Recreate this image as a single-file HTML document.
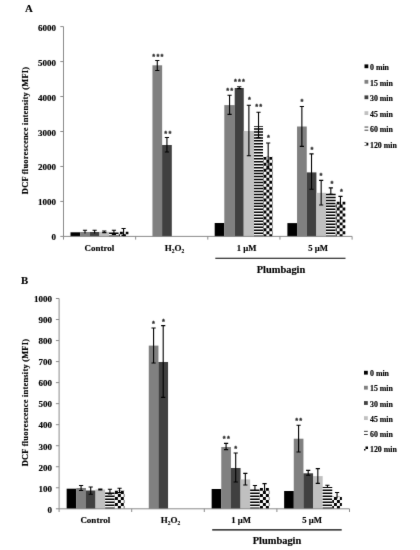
<!DOCTYPE html>
<html><head><meta charset="utf-8"><title>DCF fluorescence</title>
<style>
html,body{margin:0;padding:0;background:#fff;}
body{width:420px;height:550px;overflow:hidden;}
svg{display:block;will-change:transform;}
text{font-family:"Liberation Serif", serif;font-weight:bold;fill:#000;stroke:#000;stroke-width:0.15px;}
.t{font-size:9px;}
.g{font-size:9px;}
.p{font-size:10.4px;}
.m{font-size:8.7px;}
.y{font-size:8.4px;letter-spacing:0.24px;}
.L{font-size:10.8px;}
.l{font-size:7.85px;}
.s{font-family:"Liberation Sans", sans-serif;font-weight:bold;font-size:7.4px;letter-spacing:1.22px;fill:#2a2a2a;stroke:#2a2a2a;stroke-width:0.3px;}
</style></head><body>
<svg width="420" height="550" viewBox="0 0 420 550">
<defs>
<filter id="soft" x="0" y="0" width="420" height="550" filterUnits="userSpaceOnUse" color-interpolation-filters="sRGB"><feConvolveMatrix order="3" kernelMatrix="1 6 1 6 72 6 1 6 1" divisor="100" edgeMode="duplicate" preserveAlpha="true"/></filter>
<pattern id="stripe" patternUnits="userSpaceOnUse" width="10" height="2.67" y="0.2">
<rect x="0" y="0" width="10" height="1.4" fill="#000"/>
</pattern>
<pattern id="check" patternUnits="userSpaceOnUse" width="5.34" height="5.34" x="0.9" y="0.2">
<rect x="0" y="0" width="2.67" height="2.67" fill="#000"/><rect x="2.67" y="2.67" width="2.67" height="2.67" fill="#000"/>
</pattern>
</defs>
<g filter="url(#soft)">
<rect width="420" height="550" fill="#fff"/>
<rect x="70.50" y="232.30" width="9.70" height="4.10" fill="#000000"/>
<rect x="80.15" y="232.00" width="9.70" height="4.40" fill="#808080"/>
<rect x="89.80" y="232.00" width="9.70" height="4.40" fill="#404040"/>
<rect x="99.45" y="231.80" width="9.70" height="4.60" fill="#c0c0c0"/>
<rect x="109.10" y="232.30" width="9.65" height="4.10" fill="#fff"/>
<path d="M109.10 232.40h9.65v1.50h-9.65zM109.10 235.38h9.65v1.02h-9.65z" fill="#000"/>
<rect x="118.75" y="231.80" width="9.65" height="4.60" fill="#fff"/>
<path d="M118.75 234.29h1.15v2.11h-1.15zM119.90 231.80h2.93v2.49h-2.93zM122.83 234.29h2.93v2.11h-2.93zM125.76 231.80h2.64v2.49h-2.64z" fill="#000"/>
<rect x="152.45" y="65.30" width="9.70" height="171.10" fill="#808080"/>
<rect x="162.10" y="145.00" width="9.70" height="91.40" fill="#404040"/>
<rect x="214.70" y="223.00" width="9.65" height="13.40" fill="#000000"/>
<rect x="224.30" y="105.10" width="10.45" height="131.30" fill="#808080"/>
<rect x="234.70" y="88.00" width="9.05" height="148.40" fill="#404040"/>
<rect x="243.70" y="131.00" width="10.35" height="105.40" fill="#c0c0c0"/>
<rect x="254.00" y="125.90" width="9.00" height="110.50" fill="#fff"/>
<path d="M254.00 125.90h9.00v0.83h-9.00zM254.00 128.21h9.00v1.50h-9.00zM254.00 131.18h9.00v1.50h-9.00zM254.00 134.16h9.00v1.50h-9.00zM254.00 137.14h9.00v1.50h-9.00zM254.00 140.11h9.00v1.50h-9.00zM254.00 143.09h9.00v1.50h-9.00zM254.00 146.07h9.00v1.50h-9.00zM254.00 149.04h9.00v1.50h-9.00zM254.00 152.02h9.00v1.50h-9.00zM254.00 155.00h9.00v1.50h-9.00zM254.00 157.98h9.00v1.50h-9.00zM254.00 160.95h9.00v1.50h-9.00zM254.00 163.93h9.00v1.50h-9.00zM254.00 166.91h9.00v1.50h-9.00zM254.00 169.88h9.00v1.50h-9.00zM254.00 172.86h9.00v1.50h-9.00zM254.00 175.84h9.00v1.50h-9.00zM254.00 178.81h9.00v1.50h-9.00zM254.00 181.79h9.00v1.50h-9.00zM254.00 184.77h9.00v1.50h-9.00zM254.00 187.75h9.00v1.50h-9.00zM254.00 190.72h9.00v1.50h-9.00zM254.00 193.70h9.00v1.50h-9.00zM254.00 196.68h9.00v1.50h-9.00zM254.00 199.65h9.00v1.50h-9.00zM254.00 202.63h9.00v1.50h-9.00zM254.00 205.61h9.00v1.50h-9.00zM254.00 208.58h9.00v1.50h-9.00zM254.00 211.56h9.00v1.50h-9.00zM254.00 214.54h9.00v1.50h-9.00zM254.00 217.52h9.00v1.50h-9.00zM254.00 220.49h9.00v1.50h-9.00zM254.00 223.47h9.00v1.50h-9.00zM254.00 226.45h9.00v1.50h-9.00zM254.00 229.42h9.00v1.50h-9.00zM254.00 232.40h9.00v1.50h-9.00zM254.00 235.38h9.00v1.02h-9.00z" fill="#000"/>
<rect x="263.00" y="156.80" width="9.70" height="79.60" fill="#fff"/>
<path d="M263.00 156.80h0.47v0.08h-0.47zM263.00 159.86h0.47v2.98h-0.47zM263.00 165.82h0.47v2.98h-0.47zM263.00 171.77h0.47v2.98h-0.47zM263.00 177.72h0.47v2.98h-0.47zM263.00 183.68h0.47v2.98h-0.47zM263.00 189.63h0.47v2.98h-0.47zM263.00 195.59h0.47v2.98h-0.47zM263.00 201.54h0.47v2.98h-0.47zM263.00 207.49h0.47v2.98h-0.47zM263.00 213.45h0.47v2.98h-0.47zM263.00 219.40h0.47v2.98h-0.47zM263.00 225.36h0.47v2.98h-0.47zM263.00 231.31h0.47v2.98h-0.47zM263.47 156.88h2.93v2.98h-2.93zM263.47 162.84h2.93v2.98h-2.93zM263.47 168.79h2.93v2.98h-2.93zM263.47 174.75h2.93v2.98h-2.93zM263.47 180.70h2.93v2.98h-2.93zM263.47 186.66h2.93v2.98h-2.93zM263.47 192.61h2.93v2.98h-2.93zM263.47 198.56h2.93v2.98h-2.93zM263.47 204.52h2.93v2.98h-2.93zM263.47 210.47h2.93v2.98h-2.93zM263.47 216.43h2.93v2.98h-2.93zM263.47 222.38h2.93v2.98h-2.93zM263.47 228.33h2.93v2.98h-2.93zM263.47 234.29h2.93v2.11h-2.93zM266.40 156.80h2.93v0.08h-2.93zM266.40 159.86h2.93v2.98h-2.93zM266.40 165.82h2.93v2.98h-2.93zM266.40 171.77h2.93v2.98h-2.93zM266.40 177.72h2.93v2.98h-2.93zM266.40 183.68h2.93v2.98h-2.93zM266.40 189.63h2.93v2.98h-2.93zM266.40 195.59h2.93v2.98h-2.93zM266.40 201.54h2.93v2.98h-2.93zM266.40 207.49h2.93v2.98h-2.93zM266.40 213.45h2.93v2.98h-2.93zM266.40 219.40h2.93v2.98h-2.93zM266.40 225.36h2.93v2.98h-2.93zM266.40 231.31h2.93v2.98h-2.93zM269.33 156.88h2.93v2.98h-2.93zM269.33 162.84h2.93v2.98h-2.93zM269.33 168.79h2.93v2.98h-2.93zM269.33 174.75h2.93v2.98h-2.93zM269.33 180.70h2.93v2.98h-2.93zM269.33 186.66h2.93v2.98h-2.93zM269.33 192.61h2.93v2.98h-2.93zM269.33 198.56h2.93v2.98h-2.93zM269.33 204.52h2.93v2.98h-2.93zM269.33 210.47h2.93v2.98h-2.93zM269.33 216.43h2.93v2.98h-2.93zM269.33 222.38h2.93v2.98h-2.93zM269.33 228.33h2.93v2.98h-2.93zM269.33 234.29h2.93v2.11h-2.93zM272.26 156.80h0.44v0.08h-0.44zM272.26 159.86h0.44v2.98h-0.44zM272.26 165.82h0.44v2.98h-0.44zM272.26 171.77h0.44v2.98h-0.44zM272.26 177.72h0.44v2.98h-0.44zM272.26 183.68h0.44v2.98h-0.44zM272.26 189.63h0.44v2.98h-0.44zM272.26 195.59h0.44v2.98h-0.44zM272.26 201.54h0.44v2.98h-0.44zM272.26 207.49h0.44v2.98h-0.44zM272.26 213.45h0.44v2.98h-0.44zM272.26 219.40h0.44v2.98h-0.44zM272.26 225.36h0.44v2.98h-0.44zM272.26 231.31h0.44v2.98h-0.44z" fill="#000"/>
<rect x="287.40" y="223.10" width="9.70" height="13.30" fill="#000000"/>
<rect x="297.05" y="126.50" width="9.70" height="109.90" fill="#808080"/>
<rect x="306.70" y="172.40" width="9.70" height="64.00" fill="#404040"/>
<rect x="316.35" y="192.80" width="9.70" height="43.60" fill="#c0c0c0"/>
<rect x="326.00" y="193.60" width="9.65" height="42.80" fill="#fff"/>
<path d="M326.00 193.70h9.65v1.50h-9.65zM326.00 196.68h9.65v1.50h-9.65zM326.00 199.65h9.65v1.50h-9.65zM326.00 202.63h9.65v1.50h-9.65zM326.00 205.61h9.65v1.50h-9.65zM326.00 208.58h9.65v1.50h-9.65zM326.00 211.56h9.65v1.50h-9.65zM326.00 214.54h9.65v1.50h-9.65zM326.00 217.52h9.65v1.50h-9.65zM326.00 220.49h9.65v1.50h-9.65zM326.00 223.47h9.65v1.50h-9.65zM326.00 226.45h9.65v1.50h-9.65zM326.00 229.42h9.65v1.50h-9.65zM326.00 232.40h9.65v1.50h-9.65zM326.00 235.38h9.65v1.02h-9.65z" fill="#000"/>
<rect x="335.65" y="201.80" width="9.65" height="34.60" fill="#fff"/>
<path d="M335.65 204.52h1.07v2.98h-1.07zM335.65 210.47h1.07v2.98h-1.07zM335.65 216.43h1.07v2.98h-1.07zM335.65 222.38h1.07v2.98h-1.07zM335.65 228.33h1.07v2.98h-1.07zM335.65 234.29h1.07v2.11h-1.07zM336.72 201.80h2.93v2.72h-2.93zM336.72 207.49h2.93v2.98h-2.93zM336.72 213.45h2.93v2.98h-2.93zM336.72 219.40h2.93v2.98h-2.93zM336.72 225.36h2.93v2.98h-2.93zM336.72 231.31h2.93v2.98h-2.93zM339.65 204.52h2.93v2.98h-2.93zM339.65 210.47h2.93v2.98h-2.93zM339.65 216.43h2.93v2.98h-2.93zM339.65 222.38h2.93v2.98h-2.93zM339.65 228.33h2.93v2.98h-2.93zM339.65 234.29h2.93v2.11h-2.93zM342.58 201.80h2.72v2.72h-2.72zM342.58 207.49h2.72v2.98h-2.72zM342.58 213.45h2.72v2.98h-2.72zM342.58 219.40h2.72v2.98h-2.72zM342.58 225.36h2.72v2.98h-2.72zM342.58 231.31h2.72v2.98h-2.72z" fill="#000"/>
<path d="M63.5 26.6V236.4H352.10" fill="none" stroke="#858585" stroke-width="0.95"/>
<path d="M60.3 236.40H63.5" stroke="#858585" stroke-width="0.95"/>
<text x="56.1" y="240.40" text-anchor="end" class="t">0</text>
<path d="M60.3 201.43H63.5" stroke="#858585" stroke-width="0.95"/>
<text x="56.1" y="205.43" text-anchor="end" class="t">1000</text>
<path d="M60.3 166.47H63.5" stroke="#858585" stroke-width="0.95"/>
<text x="56.1" y="170.47" text-anchor="end" class="t">2000</text>
<path d="M60.3 131.50H63.5" stroke="#858585" stroke-width="0.95"/>
<text x="56.1" y="135.50" text-anchor="end" class="t">3000</text>
<path d="M60.3 96.53H63.5" stroke="#858585" stroke-width="0.95"/>
<text x="56.1" y="100.53" text-anchor="end" class="t">4000</text>
<path d="M60.3 61.57H63.5" stroke="#858585" stroke-width="0.95"/>
<text x="56.1" y="65.57" text-anchor="end" class="t">5000</text>
<path d="M60.3 26.60H63.5" stroke="#858585" stroke-width="0.95"/>
<text x="56.1" y="30.60" text-anchor="end" class="t">6000</text>
<path d="M63.50 236.4V239.6" stroke="#858585" stroke-width="0.95"/>
<path d="M135.65 236.4V239.6" stroke="#858585" stroke-width="0.95"/>
<path d="M207.80 236.4V239.6" stroke="#858585" stroke-width="0.95"/>
<path d="M279.95 236.4V239.6" stroke="#858585" stroke-width="0.95"/>
<path d="M352.10 236.4V239.6" stroke="#858585" stroke-width="0.95"/>
<path d="M84.98 230.20V233.40M82.88 230.20h4.2" stroke="#000" stroke-width="1.1" fill="none"/>
<path d="M94.62 230.20V233.40M92.53 230.20h4.2" stroke="#000" stroke-width="1.1" fill="none"/>
<path d="M104.28 231.00V232.60M102.18 231.00h4.2M102.18 232.60h4.2" stroke="#000" stroke-width="1.1" fill="none"/>
<path d="M113.92 230.20V234.40M111.83 230.20h4.2M111.83 234.40h4.2" stroke="#000" stroke-width="1.1" fill="none"/>
<path d="M123.58 228.50V235.40M121.48 228.50h4.2M121.48 235.40h4.2" stroke="#000" stroke-width="1.1" fill="none"/>
<path d="M157.28 60.50V70.50M155.18 60.50h4.2M155.18 70.50h4.2" stroke="#000" stroke-width="1.1" fill="none"/>
<text x="158.49" y="58.50" text-anchor="middle" class="s">***</text>
<path d="M166.93 137.50V152.00M164.83 137.50h4.2M164.83 152.00h4.2" stroke="#000" stroke-width="1.1" fill="none"/>
<text x="168.44" y="135.95" text-anchor="middle" class="s">**</text>
<path d="M229.57 95.30V114.40M227.47 95.30h4.2M227.47 114.40h4.2" stroke="#000" stroke-width="1.1" fill="none"/>
<text x="230.28" y="92.75" text-anchor="middle" class="s">**</text>
<path d="M239.22 86.80V88.60M237.12 86.80h4.2M237.12 88.60h4.2" stroke="#000" stroke-width="1.1" fill="none"/>
<text x="240.03" y="84.15" text-anchor="middle" class="s">***</text>
<path d="M248.88 105.20V155.70M246.78 105.20h4.2M246.78 155.70h4.2" stroke="#000" stroke-width="1.1" fill="none"/>
<text x="249.99" y="102.35" text-anchor="middle" class="s">*</text>
<path d="M258.52 112.30V137.60M256.42 112.30h4.2M256.42 137.60h4.2" stroke="#000" stroke-width="1.1" fill="none"/>
<text x="259.33" y="109.45" text-anchor="middle" class="s">**</text>
<path d="M268.18 143.00V169.00M266.07 143.00h4.2M266.07 169.00h4.2" stroke="#000" stroke-width="1.1" fill="none"/>
<text x="269.09" y="140.45" text-anchor="middle" class="s">*</text>
<path d="M301.87 106.50V146.40M299.77 106.50h4.2M299.77 146.40h4.2" stroke="#000" stroke-width="1.1" fill="none"/>
<text x="302.48" y="103.65" text-anchor="middle" class="s">*</text>
<path d="M311.52 153.90V189.20M309.42 153.90h4.2M309.42 189.20h4.2" stroke="#000" stroke-width="1.1" fill="none"/>
<text x="312.53" y="151.65" text-anchor="middle" class="s">*</text>
<path d="M321.17 180.40V205.00M319.07 180.40h4.2M319.07 205.00h4.2" stroke="#000" stroke-width="1.1" fill="none"/>
<text x="321.48" y="177.75" text-anchor="middle" class="s">*</text>
<path d="M330.82 187.90V194.30M328.72 187.90h4.2M328.72 194.30h4.2" stroke="#000" stroke-width="1.1" fill="none"/>
<text x="332.44" y="185.55" text-anchor="middle" class="s">*</text>
<path d="M340.47 196.40V207.00M338.37 196.40h4.2M338.37 207.00h4.2" stroke="#000" stroke-width="1.1" fill="none"/>
<text x="342.08" y="193.75" text-anchor="middle" class="s">*</text>
<text x="99.4" y="251.2" text-anchor="middle" class="g">Control</text>
<text x="174.4" y="251.2" text-anchor="middle" class="g">H<tspan dy="1.8" font-size="5.5">2</tspan><tspan dy="-1.8">O</tspan><tspan dy="1.8" font-size="5.5">2</tspan></text>
<text x="246.5" y="251.2" text-anchor="middle" class="m">1 µM</text>
<text x="318" y="251.2" text-anchor="middle" class="m">5 µM</text>
<path d="M215.3 258.2H345.5" stroke="#000" stroke-width="1.1"/>
<text x="281" y="272.5" text-anchor="middle" class="p">Plumbagin</text>
<text transform="translate(27.6 130.4) rotate(-90)" text-anchor="middle" class="y">DCF fluorescence intensity (MFI)</text>
<text x="25.0" y="11.8" class="L">A</text>
<rect x="364.5" y="64.40" width="3.8" height="3.8" fill="#000000"/>
<text x="370" y="70.00" class="l">0 min</text>
<rect x="364.5" y="79.90" width="3.8" height="3.8" fill="#808080"/>
<text x="370" y="85.50" class="l">15 min</text>
<rect x="364.5" y="95.40" width="3.8" height="3.8" fill="#404040"/>
<text x="370" y="101.00" class="l">30 min</text>
<rect x="364.5" y="111.20" width="3.8" height="3.8" fill="#c0c0c0"/>
<text x="370" y="116.80" class="l">45 min</text>
<path d="M364.5 127.05h3.8M364.5 130.20h3.8" stroke="#000" stroke-width="0.75"/>
<text x="370" y="132.30" class="l">60 min</text>
<path d="M364.5 142.20h1.9v0.5h-1.9zM366.4 142.70h1.9v2.7h-1.9zM364.5 145.40h1.9v0.5h-1.9z" fill="#000"/>
<text x="370" y="147.70" class="l">120 min</text>
<rect x="66.65" y="488.70" width="9.67" height="20.10" fill="#000000"/>
<rect x="76.27" y="488.00" width="9.67" height="20.80" fill="#808080"/>
<rect x="85.89" y="490.50" width="9.67" height="18.30" fill="#404040"/>
<rect x="95.51" y="489.50" width="9.67" height="19.30" fill="#c0c0c0"/>
<rect x="105.13" y="491.20" width="9.62" height="17.60" fill="#fff"/>
<path d="M105.13 492.52h9.62v1.50h-9.62zM105.13 495.54h9.62v1.50h-9.62zM105.13 498.56h9.62v1.50h-9.62zM105.13 501.58h9.62v1.50h-9.62zM105.13 504.60h9.62v1.50h-9.62zM105.13 507.62h9.62v1.18h-9.62z" fill="#000"/>
<rect x="114.75" y="490.50" width="9.62" height="18.30" fill="#fff"/>
<path d="M114.75 490.50h0.17v0.36h-0.17zM114.75 493.89h0.17v3.03h-0.17zM114.75 499.95h0.17v3.03h-0.17zM114.75 506.01h0.17v2.79h-0.17zM114.92 490.86h2.96v3.03h-2.96zM114.92 496.92h2.96v3.03h-2.96zM114.92 502.98h2.96v3.03h-2.96zM117.88 490.50h2.96v0.36h-2.96zM117.88 493.89h2.96v3.03h-2.96zM117.88 499.95h2.96v3.03h-2.96zM117.88 506.01h2.96v2.79h-2.96zM120.84 490.86h2.96v3.03h-2.96zM120.84 496.92h2.96v3.03h-2.96zM120.84 502.98h2.96v3.03h-2.96zM123.80 490.50h0.57v0.36h-0.57zM123.80 493.89h0.57v3.03h-0.57zM123.80 499.95h0.57v3.03h-0.57zM123.80 506.01h0.57v2.79h-0.57z" fill="#000"/>
<rect x="148.77" y="345.60" width="9.67" height="163.20" fill="#808080"/>
<rect x="158.39" y="362.00" width="9.67" height="146.80" fill="#404040"/>
<rect x="211.65" y="489.00" width="9.67" height="19.80" fill="#000000"/>
<rect x="221.27" y="447.00" width="9.67" height="61.80" fill="#808080"/>
<rect x="230.89" y="468.00" width="9.67" height="40.80" fill="#404040"/>
<rect x="240.51" y="479.40" width="9.67" height="29.40" fill="#c0c0c0"/>
<rect x="250.13" y="489.60" width="9.62" height="19.20" fill="#fff"/>
<path d="M250.13 489.60h9.62v1.40h-9.62zM250.13 492.52h9.62v1.50h-9.62zM250.13 495.54h9.62v1.50h-9.62zM250.13 498.56h9.62v1.50h-9.62zM250.13 501.58h9.62v1.50h-9.62zM250.13 504.60h9.62v1.50h-9.62zM250.13 507.62h9.62v1.18h-9.62z" fill="#000"/>
<rect x="259.75" y="488.00" width="9.62" height="20.80" fill="#fff"/>
<path d="M259.75 490.86h0.21v3.03h-0.21zM259.75 496.92h0.21v3.03h-0.21zM259.75 502.98h0.21v3.03h-0.21zM259.96 488.00h2.96v2.86h-2.96zM259.96 493.89h2.96v3.03h-2.96zM259.96 499.95h2.96v3.03h-2.96zM259.96 506.01h2.96v2.79h-2.96zM262.92 490.86h2.96v3.03h-2.96zM262.92 496.92h2.96v3.03h-2.96zM262.92 502.98h2.96v3.03h-2.96zM265.88 488.00h2.96v2.86h-2.96zM265.88 493.89h2.96v3.03h-2.96zM265.88 499.95h2.96v3.03h-2.96zM265.88 506.01h2.96v2.79h-2.96zM268.84 490.86h0.53v3.03h-0.53zM268.84 496.92h0.53v3.03h-0.53zM268.84 502.98h0.53v3.03h-0.53z" fill="#000"/>
<rect x="284.15" y="491.00" width="9.67" height="17.80" fill="#000000"/>
<rect x="293.77" y="438.70" width="9.67" height="70.10" fill="#808080"/>
<rect x="303.39" y="473.30" width="9.67" height="35.50" fill="#404040"/>
<rect x="313.01" y="476.10" width="9.67" height="32.70" fill="#c0c0c0"/>
<rect x="322.63" y="487.00" width="9.62" height="21.80" fill="#fff"/>
<path d="M322.63 487.00h9.62v0.98h-9.62zM322.63 489.50h9.62v1.50h-9.62zM322.63 492.52h9.62v1.50h-9.62zM322.63 495.54h9.62v1.50h-9.62zM322.63 498.56h9.62v1.50h-9.62zM322.63 501.58h9.62v1.50h-9.62zM322.63 504.60h9.62v1.50h-9.62zM322.63 507.62h9.62v1.18h-9.62z" fill="#000"/>
<rect x="332.25" y="496.80" width="9.62" height="12.00" fill="#fff"/>
<path d="M332.25 496.80h1.71v0.12h-1.71zM332.25 499.95h1.71v3.03h-1.71zM332.25 506.01h1.71v2.79h-1.71zM333.96 496.92h2.96v3.03h-2.96zM333.96 502.98h2.96v3.03h-2.96zM336.92 496.80h2.96v0.12h-2.96zM336.92 499.95h2.96v3.03h-2.96zM336.92 506.01h2.96v2.79h-2.96zM339.88 496.92h1.99v3.03h-1.99zM339.88 502.98h1.99v3.03h-1.99z" fill="#000"/>
<path d="M59.1 298.5V508.8H349.50" fill="none" stroke="#858585" stroke-width="0.95"/>
<path d="M55.9 508.80H59.1" stroke="#858585" stroke-width="0.95"/>
<text x="52.050000000000004" y="512.60" text-anchor="end" class="t">0</text>
<path d="M55.9 487.77H59.1" stroke="#858585" stroke-width="0.95"/>
<text x="52.050000000000004" y="491.57" text-anchor="end" class="t">100</text>
<path d="M55.9 466.74H59.1" stroke="#858585" stroke-width="0.95"/>
<text x="52.050000000000004" y="470.54" text-anchor="end" class="t">200</text>
<path d="M55.9 445.71H59.1" stroke="#858585" stroke-width="0.95"/>
<text x="52.050000000000004" y="449.51" text-anchor="end" class="t">300</text>
<path d="M55.9 424.68H59.1" stroke="#858585" stroke-width="0.95"/>
<text x="52.050000000000004" y="428.48" text-anchor="end" class="t">400</text>
<path d="M55.9 403.65H59.1" stroke="#858585" stroke-width="0.95"/>
<text x="52.050000000000004" y="407.45" text-anchor="end" class="t">500</text>
<path d="M55.9 382.62H59.1" stroke="#858585" stroke-width="0.95"/>
<text x="52.050000000000004" y="386.42" text-anchor="end" class="t">600</text>
<path d="M55.9 361.59H59.1" stroke="#858585" stroke-width="0.95"/>
<text x="52.050000000000004" y="365.39" text-anchor="end" class="t">700</text>
<path d="M55.9 340.56H59.1" stroke="#858585" stroke-width="0.95"/>
<text x="52.050000000000004" y="344.36" text-anchor="end" class="t">800</text>
<path d="M55.9 319.53H59.1" stroke="#858585" stroke-width="0.95"/>
<text x="52.050000000000004" y="323.33" text-anchor="end" class="t">900</text>
<path d="M55.9 298.50H59.1" stroke="#858585" stroke-width="0.95"/>
<text x="52.050000000000004" y="302.30" text-anchor="end" class="t">1000</text>
<path d="M59.10 508.8V512.0" stroke="#858585" stroke-width="0.95"/>
<path d="M131.70 508.8V512.0" stroke="#858585" stroke-width="0.95"/>
<path d="M204.30 508.8V512.0" stroke="#858585" stroke-width="0.95"/>
<path d="M276.90 508.8V512.0" stroke="#858585" stroke-width="0.95"/>
<path d="M349.50 508.8V512.0" stroke="#858585" stroke-width="0.95"/>
<path d="M81.08 485.50V490.50M78.98 485.50h4.2M78.98 490.50h4.2" stroke="#000" stroke-width="1.1" fill="none"/>
<path d="M90.70 487.00V494.20M88.60 487.00h4.2M88.60 494.20h4.2" stroke="#000" stroke-width="1.1" fill="none"/>
<path d="M100.32 489.00V490.00M98.22 489.00h4.2M98.22 490.00h4.2" stroke="#000" stroke-width="1.1" fill="none"/>
<path d="M109.94 489.20V494.00M107.84 489.20h4.2M107.84 494.00h4.2" stroke="#000" stroke-width="1.1" fill="none"/>
<path d="M119.56 488.20V492.60M117.46 488.20h4.2M117.46 492.60h4.2" stroke="#000" stroke-width="1.1" fill="none"/>
<path d="M153.58 328.00V363.00M151.48 328.00h4.2M151.48 363.00h4.2" stroke="#000" stroke-width="1.1" fill="none"/>
<text x="153.99" y="326.15" text-anchor="middle" class="s">*</text>
<path d="M163.20 325.60V397.40M161.10 325.60h4.2M161.10 397.40h4.2" stroke="#000" stroke-width="1.1" fill="none"/>
<text x="164.01" y="323.75" text-anchor="middle" class="s">*</text>
<path d="M226.08 443.40V449.60M223.98 443.40h4.2M223.98 449.60h4.2" stroke="#000" stroke-width="1.1" fill="none"/>
<text x="226.89" y="440.75" text-anchor="middle" class="s">**</text>
<path d="M235.70 453.00V482.00M233.60 453.00h4.2M233.60 482.00h4.2" stroke="#000" stroke-width="1.1" fill="none"/>
<text x="236.31" y="451.35" text-anchor="middle" class="s">*</text>
<path d="M245.32 473.40V485.00M243.22 473.40h4.2M243.22 485.00h4.2" stroke="#000" stroke-width="1.1" fill="none"/>
<path d="M254.94 485.50V490.30M252.84 485.50h4.2" stroke="#000" stroke-width="1.1" fill="none"/>
<path d="M264.56 483.60V491.20M262.46 483.60h4.2" stroke="#000" stroke-width="1.1" fill="none"/>
<path d="M298.58 425.20V452.00M296.48 425.20h4.2M296.48 452.00h4.2" stroke="#000" stroke-width="1.1" fill="none"/>
<text x="299.29" y="423.05" text-anchor="middle" class="s">**</text>
<path d="M308.20 470.40V475.30M306.10 470.40h4.2M306.10 475.30h4.2" stroke="#000" stroke-width="1.1" fill="none"/>
<path d="M317.82 468.60V483.40M315.72 468.60h4.2M315.72 483.40h4.2" stroke="#000" stroke-width="1.1" fill="none"/>
<path d="M327.44 485.20V487.60M325.34 485.20h4.2" stroke="#000" stroke-width="1.1" fill="none"/>
<path d="M337.06 492.50V498.50M334.96 492.50h4.2" stroke="#000" stroke-width="1.1" fill="none"/>
<text x="95.3" y="523.2" text-anchor="middle" class="g">Control</text>
<text x="170.4" y="523.2" text-anchor="middle" class="g">H<tspan dy="1.8" font-size="5.5">2</tspan><tspan dy="-1.8">O</tspan><tspan dy="1.8" font-size="5.5">2</tspan></text>
<text x="241.2" y="523.2" text-anchor="middle" class="m">1 µM</text>
<text x="312" y="523.2" text-anchor="middle" class="m">5 µM</text>
<path d="M212.2 529.9H341.7" stroke="#000" stroke-width="1.1"/>
<text x="277" y="543.6" text-anchor="middle" class="p">Plumbagin</text>
<text transform="translate(27.6 402.5) rotate(-90)" text-anchor="middle" class="y">DCF fluorescence intensity (MFI)</text>
<text x="20.9" y="284.35" class="L">B</text>
<rect x="364.0" y="370.80" width="3.8" height="3.8" fill="#000000"/>
<text x="370" y="376.40" class="l">0 min</text>
<rect x="364.0" y="385.80" width="3.8" height="3.8" fill="#808080"/>
<text x="370" y="391.40" class="l">15 min</text>
<rect x="364.0" y="401.10" width="3.8" height="3.8" fill="#404040"/>
<text x="370" y="406.70" class="l">30 min</text>
<rect x="364.0" y="416.20" width="3.8" height="3.8" fill="#c0c0c0"/>
<text x="370" y="421.80" class="l">45 min</text>
<path d="M364.0 431.35h3.8M364.0 434.50h3.8" stroke="#000" stroke-width="0.75"/>
<text x="370" y="436.60" class="l">60 min</text>
<path d="M365.5 446.40h2.5v2.5h-2.5zM364.0 448.90h1.5v1.6h-1.5z" fill="#000"/>
<text x="370" y="451.70" class="l">120 min</text>
</g>
</svg>
</body></html>
